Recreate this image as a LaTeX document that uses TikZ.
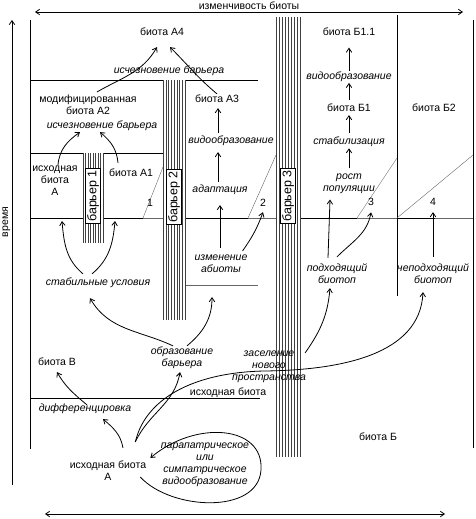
\documentclass[tikz,border=0pt]{standalone}
\usepackage{fontspec}
\setmainfont{Liberation Sans}
\usetikzlibrary{positioning,arrows.meta}

\tikzset{
  biota/.style={align=center, inner sep=1pt},
  proc/.style={align=center, inner sep=1pt, font=\fontsize{10.5}{12}\selectfont\itshape},
  barlabel/.style={draw, fill=white, rotate=90, inner sep=1.5pt, line width=0.5pt, font=\fontsize{12.5}{14}\selectfont},
  edgeline/.style={line width=1pt},
  thinline/.style={line width=0.4pt, black!60},
  stripe/.style={line width=0.35pt, black!75},
  arr/.style={line width=0.8pt, -{Straight Barb[length=4pt,width=5.5pt]}},
  axis/.style={line width=0.8pt, {Straight Barb[length=4pt,width=5.5pt]}-{Straight Barb[length=4pt,width=5.5pt]}}
}

\begin{document}
\begin{tikzpicture}[x=1pt, y=1pt, font=\fontsize{10.5}{12}\selectfont]
    \useasboundingbox (0,0) rectangle (475,-519);

    % axes
    \draw[axis] (35,-12) -- (463,-12);
    \draw[axis] (45,-514) -- (445,-514);
    \draw[line width=0.8pt, -{Straight Barb[length=4pt,width=5.5pt]}] (12,-485) -- (12,-20);
    \node (var) at (249,-6) {изменчивость биоты};
    \node[rotate=90] (time) at (6.5,-222) {время};

    % frame and borders
    \draw[edgeline] (30,-20) -- (30,-449);
    \draw[edgeline] (473,-20) -- (473,-448);
    \draw[edgeline] (397,-15) -- (397,-296);
    \draw[edgeline] (30,-80) -- (258,-80);
    \draw[edgeline] (30,-153) -- (163,-153);
    \draw[edgeline] (30,-398) -- (260,-398);
    \draw[edgeline] (30,-218) -- (143,-218);
    \draw[edgeline] (185,-218) -- (248,-218);
    \draw[edgeline] (300,-218) -- (357,-218);
    \draw[edgeline] (397,-218) -- (435,-218);
    \draw[thinline] (143,-218) -- (163,-218);
    \draw[thinline] (248,-218) -- (276,-218);
    \draw[thinline] (357,-218) -- (397,-218);
    \draw[thinline] (435,-218) -- (473,-218);
    \draw[thinline] (185,-285) -- (258,-285);
    \draw[thinline] (143,-218) -- (163,-167);
    \draw[thinline] (248,-218) -- (276,-155);
    \draw[thinline] (357,-218) -- (397,-158);
    \draw[thinline] (397,-218) -- (473,-155);

    % barriers
    \fill[white] (83,-153) rectangle (103,-243);
    \foreach \i in {0,...,8} \draw[stripe] ({83+\i*2.5},-153) -- ++(0,-90);
    \fill[white] (163,-80) rectangle (185,-320);
    \foreach \i in {0,...,8} \draw[stripe] ({163+\i*2.75},-80) -- ++(0,-240);
    \fill[white] (276,-17) rectangle (300,-457);
    \foreach \i in {0,...,8} \draw[stripe] ({276+\i*3},-17) -- ++(0,-440);
    \node[barlabel] (bar1) at (93,-196) {барьер 1};
    \node[barlabel] (bar2) at (174,-197) {барьер 2};
    \node[barlabel] (bar3) at (288,-196) {барьер 3};

    % define nodes
    \node[biota] (a4) at (162,-32) {биота А4};
    \node[proc] (gone1) at (169,-71) {исчезновение барьера};
    \node[biota] (a2) at (88,-105) {модифицированная\\биота А2};
    \node[proc] (gone2) at (102,-126) {исчезновение барьера};
    \node[biota] (a) at (55,-181) {исходная\\биота\\А};
    \node[biota] (a1) at (131,-173) {биота А1};
    \node[biota] (a3) at (217,-99) {биота А3};
    \node[proc] (spec1) at (231,-141) {видообразование};
    \node[proc] (adapt) at (220,-190) {адаптация};
    \node[proc] (abio) at (221,-264) {изменение\\абиоты};
    \node[proc] (stable) at (98,-283) {стабильные условия};

    \node[biota] (b1) at (349,-108) {биота Б1};
    \node[proc, above=20pt of b1] (spec2) {видообразование};
    \node[biota, above=34pt of spec2] (b11) {биота Б1.1};
    \node[proc, below=22pt of b1] (stab) {стабилизация};
    \node[proc, below=25pt of stab] (grow) {рост\\популяции};
    \node[biota] (b2) at (434,-108) {биота Б2};
    \node[proc] (fit) at (337,-274) {подходящий\\биотоп};
    \node[proc] (unfit) at (433,-274) {неподходящий\\биотоп};

    \node (n1) at (150,-203) {1};
    \node (n2) at (263,-203) {2};
    \node (n3) at (371,-202) {3};
    \node (n4) at (433,-202) {4};

    \node[proc] (form) at (182,-358) {образование\\барьера};
    \node[biota] (bv) at (57,-362) {биота В};
    \node[proc] (settle) at (269,-367) {заселение\\нового\\пространства};
    \node[biota] (orig) at (228,-393) {исходная биота};
    \node[proc] (diff) at (85,-409) {дифференцировка};
    \node[biota] (a0) at (108,-471) {исходная биота\\А};
    \node[proc] (para) at (205,-465) {парапатрическое\\или\\симпатрическое\\видообразование};
    \node[biota] (bb) at (378,-437) {биота Б};

    \coordinate (s1) at (62,-221);
    \coordinate (s2) at (115,-221);
    \coordinate (bend) at (265,-371);
    \coordinate (loop) at (261,-470);

    % connect the nodes
    \draw[arr] ([xshift=9pt,yshift=2pt]a2.north) to[out=30,in=-120] ([xshift=-5pt,yshift=-10pt]a4.south);
    \draw[arr] (a3.north) to[out=140,in=-45] ([xshift=8pt,yshift=-10pt]a4.south);
    \draw[arr] ([xshift=3pt]a.north) to[out=85,in=-145] ([xshift=-22pt]gone2.south);
    \draw[arr] ([xshift=-13pt,yshift=5pt]a1.north) to[out=95,in=-40] ([xshift=-2pt]gone2.south);
    \draw[arr] ([xshift=-13pt,yshift=2pt]spec1.north) -- ([xshift=1pt,yshift=-4pt]a3.south);
    \draw[arr] ([xshift=-2pt,yshift=2pt]adapt.north) -- ([xshift=-13pt,yshift=-5pt]spec1.south);
    \draw[arr] ([xshift=-1pt,yshift=6pt]abio.north) -- ([yshift=-9pt]adapt.south);
    \draw[arr] ([xshift=-6pt,yshift=3pt]abio.north east) to[out=55,in=-110] ([yshift=-2pt]n2.south);
    \draw[arr] ([xshift=-15pt,yshift=3pt]stable.north) to[out=140,in=-85] (s1);
    \draw[arr] ([xshift=-6pt,yshift=3pt]stable.north) to[out=40,in=-95] (s2);
    \draw[arr] ([xshift=-9pt]form.north) to[out=155,in=-60] ([xshift=-8pt,yshift=-9pt]stable.south);
    \draw[arr] ([xshift=5pt]form.north) to[out=40,in=-90] ([xshift=-9pt,yshift=-23pt]abio.south);

    \draw[arr] ([yshift=4pt]grow.north) -- ([yshift=-1pt]stab.south);
    \draw[arr] ([yshift=2pt]stab.north) -- ([yshift=-2pt]b1.south);
    \draw[arr] ([yshift=3pt]b1.north) -- (spec2.south);
    \draw[arr] (spec2.north) -- ([yshift=-11pt]b11.south);
    \draw[arr] ([xshift=-9pt,yshift=5pt]fit.north) -- ([xshift=-19pt,yshift=-5pt]grow.south);
    \draw[arr] ([yshift=6pt]fit.north) to[out=45,in=-100] ([yshift=-3pt]n3.south);
    \draw[arr] ([yshift=6pt]unfit.north) -- ([yshift=-3pt]n4.south);
    \draw[arr] ([xshift=-2pt,yshift=-3pt]settle.north east) to[out=55,in=-95] ([xshift=-7pt,yshift=-3pt]fit.south);

    \draw[arr] ([xshift=-12pt,yshift=18pt]a0.north east) to[out=65,in=-100] ([xshift=-2pt,yshift=-2pt]form.south);
    \draw[arr] ([xshift=-12pt,yshift=18pt]a0.north east) .. controls +(11,47) and +(-65,-1) .. (bend) .. controls +(75,1) and +(-3,-63) .. ([xshift=-10pt,yshift=-7pt]unfit.south);
    \draw[arr] ([xshift=15pt,yshift=12pt]a0.north) to[out=100,in=-40] ([xshift=18pt,yshift=-4pt]diff.south);
    \draw[arr] ([xshift=2pt,yshift=-2pt]diff.north) to[out=140,in=-60] ([yshift=-5pt]bv.south);
    \draw[arr] ([xshift=-7pt,yshift=-6pt]a0.east) .. controls +(30,-33) and +(-3,-45) .. (loop) .. controls +(3,45) and +(45,38) .. ([xshift=3pt,yshift=2pt]a0.north east);

\end{tikzpicture}
\end{document}
